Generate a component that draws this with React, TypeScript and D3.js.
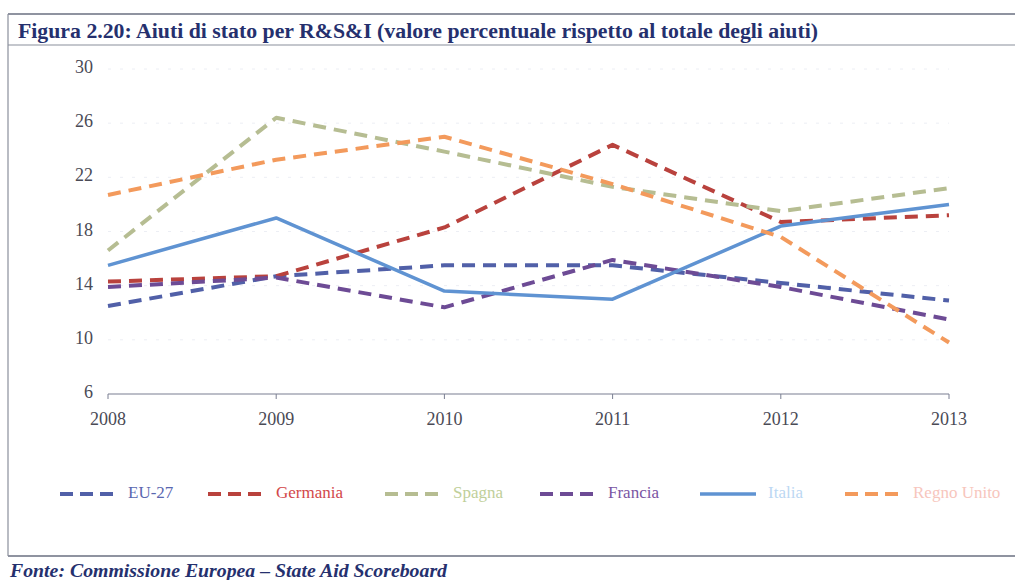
import React from 'react';
import * as d3 from 'd3';

const YEARS = [2008, 2009, 2010, 2011, 2012, 2013];
const SERIES_NAMES = ['EU-27', 'Germania', 'Spagna', 'Francia', 'Italia', 'Regno Unito'];
const EU27 = [12.5, 14.7, 15.5, 15.5, 14.2, 12.9];
const GERMANIA = [14.3, 14.7, 18.3, 24.4, 18.7, 19.2];
const SPAGNA = [16.6, 26.4, 23.9, 21.3, 19.5, 21.2];
const FRANCIA = [13.9, 14.6, 12.4, 15.9, 13.9, 11.5];
const ITALIA = [15.5, 19.0, 13.6, 13.0, 18.4, 20.0];
const REGNO_UNITO = [20.7, 23.3, 25.0, 21.5, 17.6, 9.8];
const Y_TICKS = [6, 10, 14, 18, 22, 26, 30];

const COLORS = ['#5160a8', '#b9423d', '#b6bd92', '#6d4b95', '#5f93d2', '#f39a5c'];
const TEXT_COLORS = ['#5a67b0', '#d2474a', '#bfcf9a', '#7a55a3', '#bcd8f3', '#f7c6bd'];
const SOLID = [false, false, false, false, true, false];

const width = 1015;
const height = 580;
const marginLeft = 108;
const marginRight = 66;
const plotTop = 69;
const plotBottom = 394;

const x = d3.scalePoint<number>()
  .domain(YEARS)
  .range([marginLeft, width - marginRight]);

const y = d3.scaleLinear()
  .domain([6, 30])
  .range([plotBottom, plotTop]);

const line = d3.line<number>()
  .x((_, i) => x(YEARS[i]) as number)
  .y(d => y(d));

const ALL = [EU27, GERMANIA, SPAGNA, FRANCIA, ITALIA, REGNO_UNITO];

const legendX = [60, 208, 385, 540, 700, 845];

const font = "'Liberation Serif', 'DejaVu Serif', serif";

export default function App() {
  return (
    <svg width={width} height={height} style={{ position: 'absolute', left: 0, top: 0, background: '#fff', fontFamily: font }}>
      {/* frame */}
      <line x1={8} x2={width} y1={14} y2={14} stroke="#6a6f80" strokeWidth={1.5} />
      <line x1={8} x2={width} y1={45} y2={45} stroke="#8a8f9c" strokeWidth={1.2} />
      <line x1={8} x2={width} y1={556} y2={556} stroke="#6a6f80" strokeWidth={1.5} />
      <line x1={8} x2={8} y1={14} y2={556} stroke="#8a8f9c" strokeWidth={1.2} />
      <text x={18} y={38} fontSize={20} fontWeight="bold" fill="#25306e" textLength={800} lengthAdjust="spacingAndGlyphs">
        Figura 2.20: Aiuti di stato per R&amp;S&amp;I (valore percentuale rispetto al totale degli aiuti)
      </text>
      <text x={10} y={577} fontSize={18} fontWeight="bold" fontStyle="italic" fill="#25306e" textLength={437} lengthAdjust="spacingAndGlyphs">
        Fonte: Commissione Europea – State Aid Scoreboard
      </text>

      {/* grid */}
      {Y_TICKS.filter(t => t !== 6).map(t => (
        <line key={t} x1={marginLeft} x2={width - marginRight} y1={y(t)} y2={y(t)}
          stroke="#eceef4" strokeWidth={1} strokeDasharray="3 9" />
      ))}

      {/* axes */}
      <line x1={marginLeft} x2={width - marginRight} y1={plotBottom} y2={plotBottom} stroke="#7a7f92" strokeWidth={1.2} />
      {YEARS.map(yr => (
        <g key={yr}>
          <line x1={x(yr)} x2={x(yr)} y1={plotBottom} y2={plotBottom + 5} stroke="#7a7f92" />
          <text x={x(yr)} y={plotBottom + 31} fontSize={18} fill="#4a4a55" textAnchor="middle">{yr}</text>
        </g>
      ))}
      {Y_TICKS.map(t => (
        <text key={t} x={93} y={y(t)} fontSize={18} fill="#4a4a55" textAnchor="end" dominantBaseline="middle">{t}</text>
      ))}

      {/* lines */}
      {ALL.map((vals, i) => (
        <path key={SERIES_NAMES[i]} d={line(vals) || ''} fill="none" stroke={COLORS[i]}
          strokeWidth={SOLID[i] ? 3.5 : 4} strokeDasharray={SOLID[i] ? undefined : '13 8'}
          strokeLinejoin="round" />
      ))}

      {/* legend */}
      {SERIES_NAMES.map((name, i) => (
        <g key={name} transform={`translate(${legendX[i]},494)`}>
          <line x1={0} x2={56} y1={0} y2={0} stroke={COLORS[i]} strokeWidth={SOLID[i] ? 3.5 : 4}
            strokeDasharray={SOLID[i] ? undefined : '13 7'} />
          <text x={68} y={0} fontSize={17} fill={TEXT_COLORS[i]} dominantBaseline="middle">{name}</text>
        </g>
      ))}
    </svg>
  );
}
